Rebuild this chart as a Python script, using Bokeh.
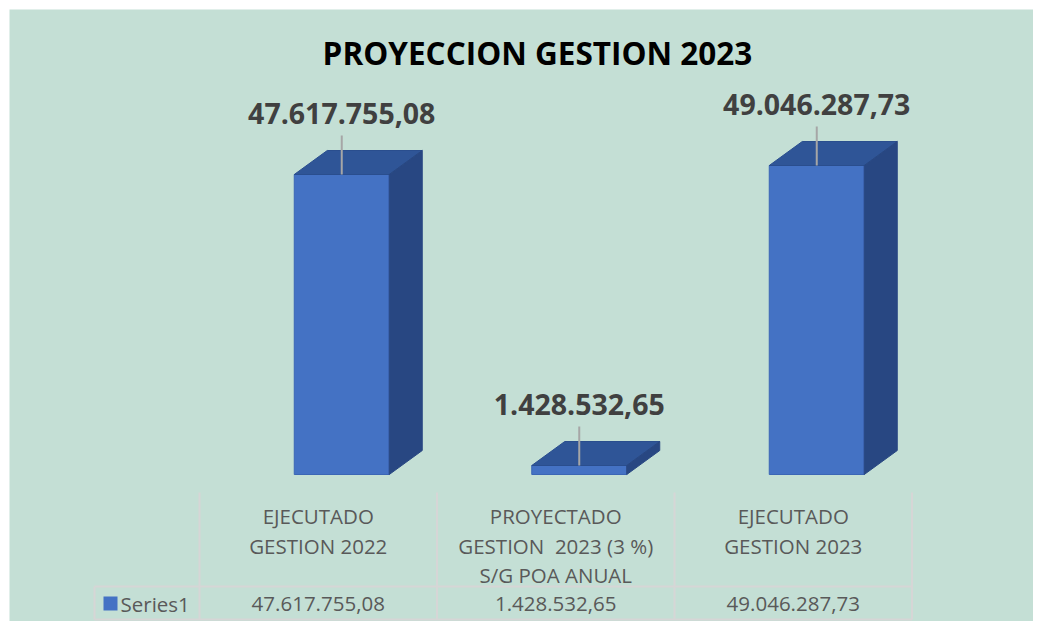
from bokeh.plotting import figure
from bokeh.models import Range1d
from bokeh.core.properties import value
from bokeh.embed import file_html
from bokeh.resources import INLINE

# ---- data ----
title = "PROYECCION GESTION 2023"
cat_line1 = ["EJECUTADO", "PROYECTADO", "EJECUTADO"]
cat_line2 = ["GESTION 2022", "GESTION\u00a0 2023 (3 %)", "GESTION 2023"]
cat_line3 = ["", "S/G POA ANUAL", ""]
values = [47617755.08, 1428532.65, 49046287.73]
value_labels = ["47.617.755,08", "1.428.532,65", "49.046.287,73"]
series_name = "Series1"

# ---- layout ----
W, H = 1033, 621
BG = "#C4DFD5"
FRONT = "#4472C4"
TOP = "#2F5597"
SIDE = "#284782"
BASE = 474.0          # pixel row (from top) of the value axis zero
PX_PER_UNIT = 300.0 / 47617755.08
DX, DY = 33.0, 24.0   # 3D depth in px
COL0, COLW = 199.0, 237.5
BAR_W = 95.0

def px(v):
    return v / PX_PER_UNIT

p = figure(width=W, height=H, output_backend="svg", toolbar_location=None,
           x_range=Range1d(0, W),
           y_range=Range1d(px(BASE - H), px(BASE)),
           min_border=0, outline_line_color=None,
           background_fill_color="white", border_fill_color="white")
p.axis.visible = False
p.grid.visible = False
p.extra_y_ranges = {"px": Range1d(H, 0)}

# chart area background
p.quad(left=[9], right=[W + 5], top=[9], bottom=[H + 5], y_range_name="px",
       fill_color=BG, line_color=None)

n = len(values)
col_centers = [COL0 + COLW * (i + 0.5) for i in range(n)]
bar_c = [c + 23.5 for c in col_centers]
left = [c - BAR_W / 2 for c in bar_c]
right = [c + BAR_W / 2 for c in bar_c]
dv = px(DY)

# front faces
p.quad(left=left, right=right, bottom=[0] * n, top=values,
       fill_color=FRONT, line_color="#3B66B5", line_width=1)
# top faces
p.patches(xs=[[l, r, r + DX, l + DX] for l, r in zip(left, right)],
          ys=[[v, v, v + dv, v + dv] for v in values],
          fill_color=TOP, line_color="#2A4E8E", line_width=1)
# side faces
p.patches(xs=[[r, r + DX, r + DX, r] for r in right],
          ys=[[0, dv, v + dv, v] for v in values],
          fill_color=SIDE, line_color="#284782", line_width=1)

# leader lines & labels
p.segment(x0=bar_c, y0=values, x1=bar_c, y1=[v + px(39) for v in values],
          line_color="#A6A6A6", line_width=2)
p.text(x=bar_c, y=[v + px(61) for v in values], text=value_labels,
       text_font=value("Open Sans"), text_font_style="bold",
       text_font_size="28.5px", text_color="#404040",
       text_align="center", text_baseline="middle")

# title
p.text(x=[537], y=[52], text=[title], y_range_name="px",
       text_font=value("Open Sans"), text_font_style="bold",
       text_font_size="31.5px", text_color="#000000",
       text_align="center", text_baseline="middle")

# data table
GRID = "#D6D6D6"
t_top, row_top, row_bot = 492, 586, 619
x_left = 94
xs_v = [COL0 + COLW * i for i in range(n + 1)]
p.segment(x0=xs_v, y0=[t_top] * (n + 1), x1=xs_v, y1=[row_bot] * (n + 1),
          y_range_name="px", line_color=GRID, line_width=2)
p.segment(x0=[x_left, x_left, x_left], y0=[row_top, row_bot, row_top],
          x1=[xs_v[-1], xs_v[-1], x_left], y1=[row_top, row_bot, row_bot],
          y_range_name="px", line_color=GRID, line_width=2)

TXT = "#595959"
FS = "20.5px"
for lines, yy in ((cat_line1, 515), (cat_line2, 545), (cat_line3, 574)):
    p.text(x=col_centers, y=[yy] * n, text=lines, y_range_name="px",
           text_font=value("Open Sans"), text_font_size=FS,
           text_color=TXT, text_align="center", text_baseline="middle")
ROW_Y = 603
p.text(x=col_centers, y=[ROW_Y] * n, text=value_labels, y_range_name="px",
       text_font=value("Open Sans"), text_font_size=FS,
       text_color=TXT, text_align="center", text_baseline="middle")
p.rect(x=[110], y=[ROW_Y], width=14, height=14, y_range_name="px",
       fill_color=FRONT, line_color=None)
p.text(x=[120], y=[ROW_Y], text=[series_name], y_range_name="px",
       text_font=value("Open Sans"), text_font_size=FS,
       text_color=TXT, text_align="left", text_baseline="middle")

open("out.html", "w").write(file_html(p, INLINE))
